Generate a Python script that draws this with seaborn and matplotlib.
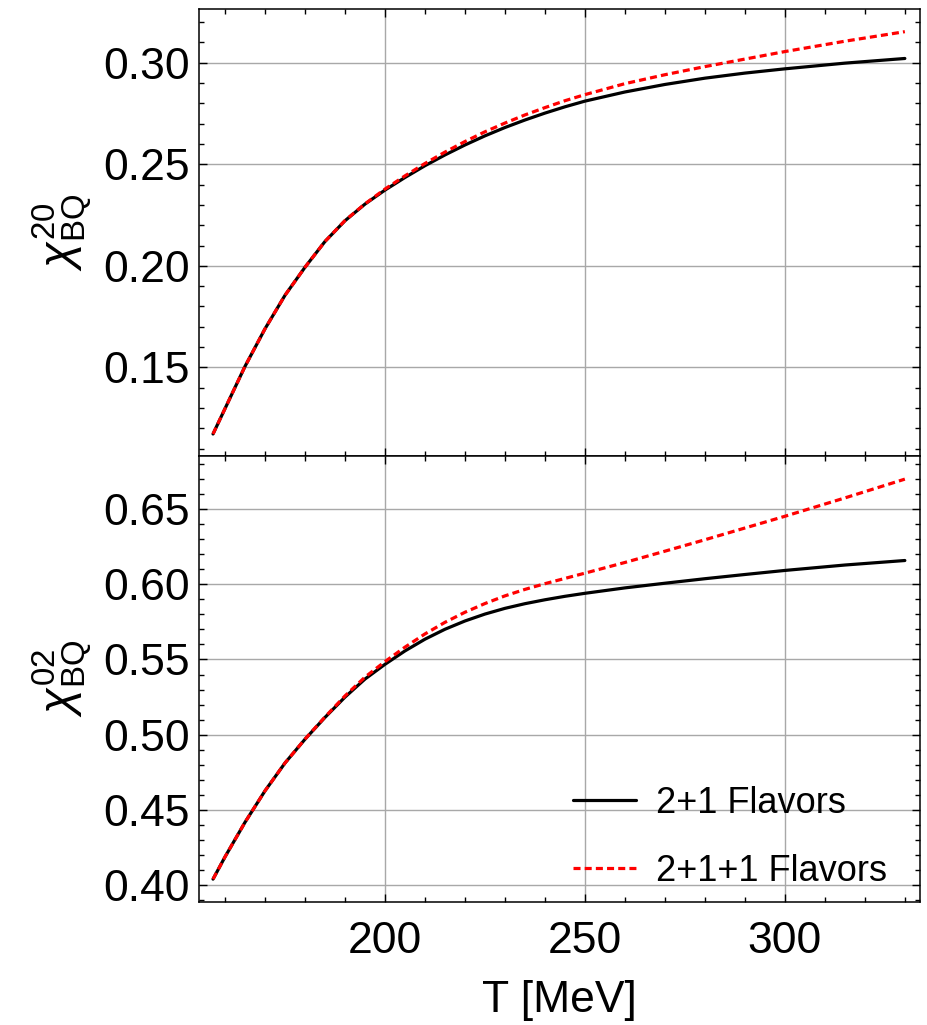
import matplotlib
matplotlib.use("Agg")
import matplotlib.pyplot as plt
from matplotlib.ticker import MultipleLocator
import pandas as pd
import seaborn as sns

# Temperature grid [MeV]
temperature = [157, 160, 165, 170, 175, 180, 185, 190, 195, 200, 205, 210, 215,
               220, 225, 230, 235, 240, 245, 250, 260, 270, 280, 290, 300, 315, 330]

# chi^{20}_{BQ}
chi20_2p1 = [0.1172, 0.1297, 0.1505, 0.1690, 0.1855, 0.1993, 0.2120, 0.2222, 0.2304, 0.2373,
             0.2435, 0.2493, 0.2546, 0.2595, 0.2640, 0.2681, 0.2718, 0.2752, 0.2783, 0.2811,
             0.2856, 0.2893, 0.2924, 0.2949, 0.2970, 0.2998, 0.3021]
chi20_2p1p1 = [0.1172, 0.1297, 0.1505, 0.1690, 0.1855, 0.1993, 0.2120, 0.2223, 0.2305, 0.2378,
               0.2443, 0.2504, 0.2560, 0.2612, 0.2660, 0.2703, 0.2743, 0.2779, 0.2813, 0.2843,
               0.2897, 0.2941, 0.2981, 0.3018, 0.3055, 0.3106, 0.3153]

# chi^{02}_{BQ}
chi02_2p1 = [0.4040, 0.4188, 0.4418, 0.4627, 0.4812, 0.4970, 0.5115, 0.5250, 0.5370, 0.5468,
             0.5557, 0.5635, 0.5701, 0.5756, 0.5802, 0.5840, 0.5871, 0.5897, 0.5920, 0.5940,
             0.5976, 0.6007, 0.6037, 0.6065, 0.6092, 0.6128, 0.6158]
chi02_2p1p1 = [0.4040, 0.4188, 0.4418, 0.4627, 0.4812, 0.4971, 0.5118, 0.5258, 0.5383, 0.5486,
               0.5582, 0.5670, 0.5747, 0.5814, 0.5872, 0.5923, 0.5966, 0.6004, 0.6039, 0.6074,
               0.6145, 0.6220, 0.6296, 0.6374, 0.6452, 0.6574, 0.6699]

series_names = ["2+1 Flavors", "2+1+1 Flavors"]

df = pd.concat([
    pd.DataFrame({"T": temperature, "chi20": chi20_2p1, "chi02": chi02_2p1,
                  "Flavors": series_names[0]}),
    pd.DataFrame({"T": temperature, "chi20": chi20_2p1p1, "chi02": chi02_2p1p1,
                  "Flavors": series_names[1]}),
], ignore_index=True)

sns.set_theme(style="ticks")
plt.rcParams.update({
    "font.family": ["Liberation Sans", "DejaVu Sans"],
    "mathtext.fontset": "custom",
    "mathtext.rm": "Liberation Sans",
    "mathtext.it": "Liberation Sans:italic",
    "mathtext.bf": "Liberation Sans:bold",
    "text.color": "black",
    "axes.labelcolor": "black",
    "axes.edgecolor": "black",
    "axes.linewidth": 1.1,
    "xtick.color": "black",
    "ytick.color": "black",
})

palette = {series_names[0]: "black", series_names[1]: "#ff0000"}
dashes = {series_names[0]: "", series_names[1]: (2.2, 1.3)}

fig = plt.figure(figsize=(9.27, 10.25), dpi=100)
ax_top = fig.add_axes([0.2147, 0.5556, 0.7778, 0.4353])
ax_bot = fig.add_axes([0.2147, 0.1203, 0.7778, 0.4353], sharex=ax_top)

sns.lineplot(data=df, x="T", y="chi20", hue="Flavors", style="Flavors",
             palette=palette, dashes=dashes, linewidth=2.3, ax=ax_top, legend=False)
sns.lineplot(data=df, x="T", y="chi02", hue="Flavors", style="Flavors",
             palette=palette, dashes=dashes, linewidth=2.3, ax=ax_bot, legend=True)

ax_top.set_xlim(153.5, 333.8)
ax_top.set_ylim(0.1066, 0.3263)
ax_bot.set_ylim(0.389, 0.6856)

for ax in (ax_top, ax_bot):
    ax.grid(True, which="major", color="#a8a8a8", linewidth=1.0)
    ax.set_axisbelow(True)
    ax.xaxis.set_major_locator(MultipleLocator(50))
    ax.xaxis.set_minor_locator(MultipleLocator(10))
    ax.yaxis.set_major_locator(MultipleLocator(0.05))
    ax.yaxis.set_minor_locator(MultipleLocator(0.01))
    ax.tick_params(which="both", direction="in", top=True, right=True,
                   labelsize=32, width=1.0)
    ax.tick_params(which="major", length=6)
    ax.tick_params(which="minor", length=3.5)
    ax.tick_params(axis="y", pad=6.5)
    ax.tick_params(axis="x", pad=14)
    ax.yaxis.set_major_formatter(plt.FormatStrFormatter("%.2f"))

ax_top.tick_params(axis="x", labelbottom=False)
ax_top.set_xlabel("")
ax_top.set_ylabel(r"$\chi^{20}_{\mathrm{BQ}}$", fontsize=34)
ax_bot.set_ylabel(r"$\chi^{02}_{\mathrm{BQ}}$", fontsize=34)
ax_top.yaxis.set_label_coords(-0.145, 0.5)
ax_bot.yaxis.set_label_coords(-0.145, 0.5)
ax_bot.set_xlabel("T [MeV]", fontsize=32, labelpad=13)

leg = ax_bot.legend(loc="lower right", bbox_to_anchor=(0.974, -0.003),
                    frameon=False, fontsize=26, handlelength=1.75,
                    handletextpad=0.55, labelspacing=0.9, borderaxespad=0.0)

fig.savefig("out.png", dpi=100)
